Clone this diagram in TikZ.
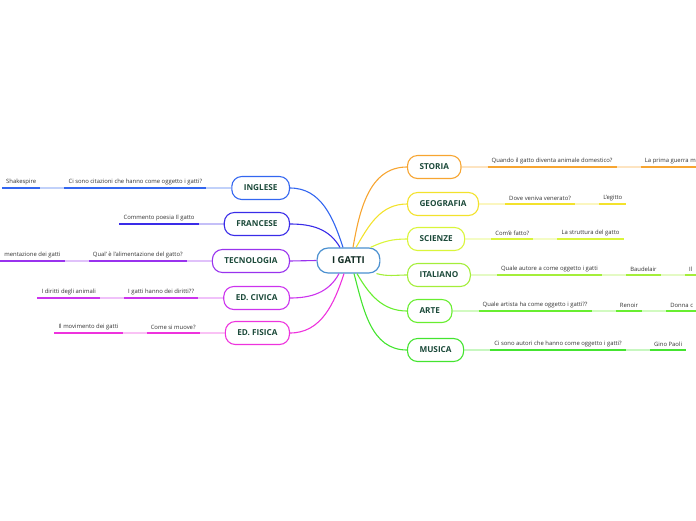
\documentclass[tikz,border=0pt]{standalone}
\usepackage{fontspec}
\setmainfont{Open Sans}
\usetikzlibrary{positioning}

\definecolor{titlecol}{HTML}{1C4A3A}
\definecolor{subcol}{HTML}{333333}
\definecolor{rootcol}{HTML}{4A90D0}
\definecolor{storiacol}{HTML}{F7A531}
\definecolor{geocol}{HTML}{F3E22C}
\definecolor{scicol}{HTML}{DAF53A}
\definecolor{itacol}{HTML}{A4EE3A}
\definecolor{artecol}{HTML}{68EE30}
\definecolor{musicol}{HTML}{44E430}
\definecolor{inglcol}{HTML}{3366F0}
\definecolor{francol}{HTML}{3A2CE8}
\definecolor{tecnocol}{HTML}{9933EE}
\definecolor{civcol}{HTML}{CC33EE}
\definecolor{fiscol}{HTML}{EE33DD}

\tikzset{
  topic/.style={draw=#1, line width=1.1pt, fill=white, rounded corners=10pt,
    minimum height=23pt, inner xsep=12pt, text=titlecol,
    font=\bfseries\fontsize{8.2}{10}\selectfont},
  sub/.style={font=\fontsize{5.9}{7}\selectfont, text=subcol, inner xsep=4pt, inner ysep=3pt},
  branch/.style={line width=1.1pt},
  uline/.style={line width=2pt},
  link/.style={line width=2pt, opacity=0.3}
}

\begin{document}
\begin{tikzpicture}[x=1pt,y=-1pt]
    \clip (0,0) rectangle (696,520);
    % root
    \node[draw=rootcol, line width=1.2pt, fill=white, rounded corners=11pt, minimum height=25pt,
      inner xsep=15pt, text=titlecol!60!black, font=\bfseries\fontsize{9.5}{11}\selectfont]
      (gatti) at (348.5,260.5) {I GATTI};
    % right topics
    \node[topic=storiacol, anchor=west] (storia) at (407,167) {STORIA};
    \node[topic=geocol, anchor=west] (geografia) at (407,204) {GEOGRAFIA};
    \node[topic=scicol, anchor=west] (scienze) at (407,239) {SCIENZE};
    \node[topic=itacol, anchor=west] (italiano) at (407,275) {ITALIANO};
    \node[topic=artecol, anchor=west] (arte) at (407,311) {ARTE};
    \node[topic=musicol, anchor=west] (musica) at (407,350) {MUSICA};
    % left topics
    \node[topic=inglcol, anchor=east] (inglese) at (290,188) {INGLESE};
    \node[topic=francol, anchor=east] (francese) at (290,224) {FRANCESE};
    \node[topic=tecnocol, anchor=east] (tecnologia) at (290,261) {TECNOLOGIA};
    \node[topic=civcol, anchor=east] (edcivica) at (290,298) {ED. CIVICA};
    \node[topic=fiscol, anchor=east] (edfisica) at (290,333) {ED. FISICA};

    % branches from the root
    \draw[branch, storiacol] ([xshift=4.5pt]gatti.north) to[out=80,in=180] (storia.west);
    \draw[branch, geocol] ([xshift=7.5pt]gatti.north) to[out=60,in=180] (geografia.west);
    \draw[branch, scicol] ([xshift=22pt]gatti.north) to[out=25,in=180] (scienze.west);
    \draw[branch, itacol] ([xshift=28pt]gatti.south) to[out=-15,in=180] (italiano.west);
    \draw[branch, artecol] ([xshift=8.5pt]gatti.south) to[out=-60,in=180] (arte.west);
    \draw[branch, musicol] ([xshift=5.5pt]gatti.south) to[out=-75,in=180] (musica.west);
    \draw[branch, inglcol] ([xshift=-5.5pt]gatti.north) to[out=108,in=0] (inglese.east);
    \draw[branch, francol] ([xshift=-8.5pt]gatti.north) to[out=120,in=0] (francese.east);
    \draw[branch, tecnocol] (gatti.west) -- (tecnologia.east);
    \draw[branch, civcol] ([xshift=-9.5pt]gatti.south) to[out=-118,in=0] (edcivica.east);
    \draw[branch, fiscol] ([xshift=-4.5pt]gatti.south) to[out=-108,in=0] (edfisica.east);

    % STORIA
    \node[sub, right=26pt of storia, anchor=south west] (storia1) {Quando il gatto diventa animale domestico?};
    \node[sub, right=24pt of storia1.south east, anchor=south west] (storia2) {La prima guerra m};
    \draw[link, storiacol] (storia.east) -- (storia1.south west) (storia1.south east) -- (storia2.south west);
    \draw[uline, storiacol] (storia1.south west) -- (storia1.south east) (storia2.south west) -- ([xshift=20pt]storia2.south east);
    % GEOGRAFIA
    \node[sub, right=26pt of geografia, anchor=south west] (geo1) {Dove veniva venerato?};
    \node[sub, right=24pt of geo1.south east, anchor=south west] (geo2) {L'egitto};
    \draw[link, geocol] (geografia.east) -- (geo1.south west) (geo1.south east) -- (geo2.south west);
    \draw[uline, geocol] (geo1.south west) -- (geo1.south east) (geo2.south west) -- (geo2.south east);
    % SCIENZE
    \node[sub, right=26pt of scienze, anchor=south west] (sci1) {Com'è fatto?};
    \node[sub, right=24pt of sci1.south east, anchor=south west] (sci2) {La struttura del gatto};
    \draw[link, scicol] (scienze.east) -- (sci1.south west) (sci1.south east) -- (sci2.south west);
    \draw[uline, scicol] (sci1.south west) -- (sci1.south east) (sci2.south west) -- (sci2.south east);
    % ITALIANO
    \node[sub, right=26pt of italiano, anchor=south west] (ita1) {Quale autore a come oggetto i gatti};
    \node[sub, right=24pt of ita1.south east, anchor=south west] (ita2) {Baudelair};
    \node[sub, right=24pt of ita2.south east, anchor=south west] (ita3) {Il};
    \draw[link, itacol] (italiano.east) -- (ita1.south west) (ita1.south east) -- (ita2.south west)
      (ita2.south east) -- (ita3.south west);
    \draw[uline, itacol] (ita1.south west) -- (ita1.south east) (ita2.south west) -- (ita2.south east)
      (ita3.south west) -- ([xshift=20pt]ita3.south east);
    % ARTE
    \node[sub, right=26pt of arte, anchor=south west] (arte1) {Quale artista ha come oggetto i gatti??};
    \node[sub, right=24pt of arte1.south east, anchor=south west] (arte2) {Renoir};
    \node[sub, right=24pt of arte2.south east, anchor=south west] (arte3) {Donna c};
    \draw[link, artecol] (arte.east) -- (arte1.south west) (arte1.south east) -- (arte2.south west)
      (arte2.south east) -- (arte3.south west);
    \draw[uline, artecol] (arte1.south west) -- (arte1.south east) (arte2.south west) -- (arte2.south east)
      (arte3.south west) -- ([xshift=20pt]arte3.south east);
    % MUSICA
    \node[sub, right=26pt of musica, anchor=south west] (musica1) {Ci sono autori che hanno come oggetto i gatti?};
    \node[sub, right=24pt of musica1.south east, anchor=south west] (musica2) {Gino Paoli};
    \draw[link, musicol] (musica.east) -- (musica1.south west) (musica1.south east) -- (musica2.south west);
    \draw[uline, musicol] (musica1.south west) -- (musica1.south east) (musica2.south west) -- (musica2.south east);

    % INGLESE
    \node[sub, left=25pt of inglese, anchor=south east] (ingl1) {Ci sono citazioni che hanno come oggetto i gatti?};
    \node[sub, left=24pt of ingl1.south west, anchor=south east] (ingl2) {Shakespire};
    \draw[link, inglcol] (inglese.west) -- (ingl1.south east) (ingl1.south west) -- (ingl2.south east);
    \draw[uline, inglcol] (ingl1.south west) -- (ingl1.south east) (ingl2.south west) -- (ingl2.south east);
    % FRANCESE
    \node[sub, left=25pt of francese, anchor=south east] (fran1) {Commento poesia Il gatto};
    \draw[link, francol] (francese.west) -- (fran1.south east);
    \draw[uline, francol] (fran1.south west) -- (fran1.south east);
    % TECNOLOGIA
    \node[sub, left=25pt of tecnologia, anchor=south east] (tecno1) {Qual' è l'alimentazione del gatto?};
    \node[sub, left=24pt of tecno1.south west, anchor=south east] (tecno2) {mentazione dei gatti};
    \draw[link, tecnocol] (tecnologia.west) -- (tecno1.south east) (tecno1.south west) -- (tecno2.south east);
    \draw[uline, tecnocol] ([xshift=-20pt]tecno2.south west) -- (tecno2.south east) (tecno1.south west) -- (tecno1.south east);
    % ED. CIVICA
    \node[sub, left=25pt of edcivica, anchor=south east] (civ1) {I gatti hanno dei diritti??};
    \node[sub, left=24pt of civ1.south west, anchor=south east] (civ2) {I diritti degli animali};
    \draw[link, civcol] (edcivica.west) -- (civ1.south east) (civ1.south west) -- (civ2.south east);
    \draw[uline, civcol] (civ1.south west) -- (civ1.south east) (civ2.south west) -- (civ2.south east);
    % ED. FISICA
    \node[sub, left=25pt of edfisica, anchor=south east] (fis1) {Come si muove?};
    \node[sub, left=24pt of fis1.south west, anchor=south east] (fis2) {Il movimento dei gatti};
    \draw[link, fiscol] (edfisica.west) -- (fis1.south east) (fis1.south west) -- (fis2.south east);
    \draw[uline, fiscol] (fis1.south west) -- (fis1.south east) (fis2.south west) -- (fis2.south east);
\end{tikzpicture}
\end{document}
